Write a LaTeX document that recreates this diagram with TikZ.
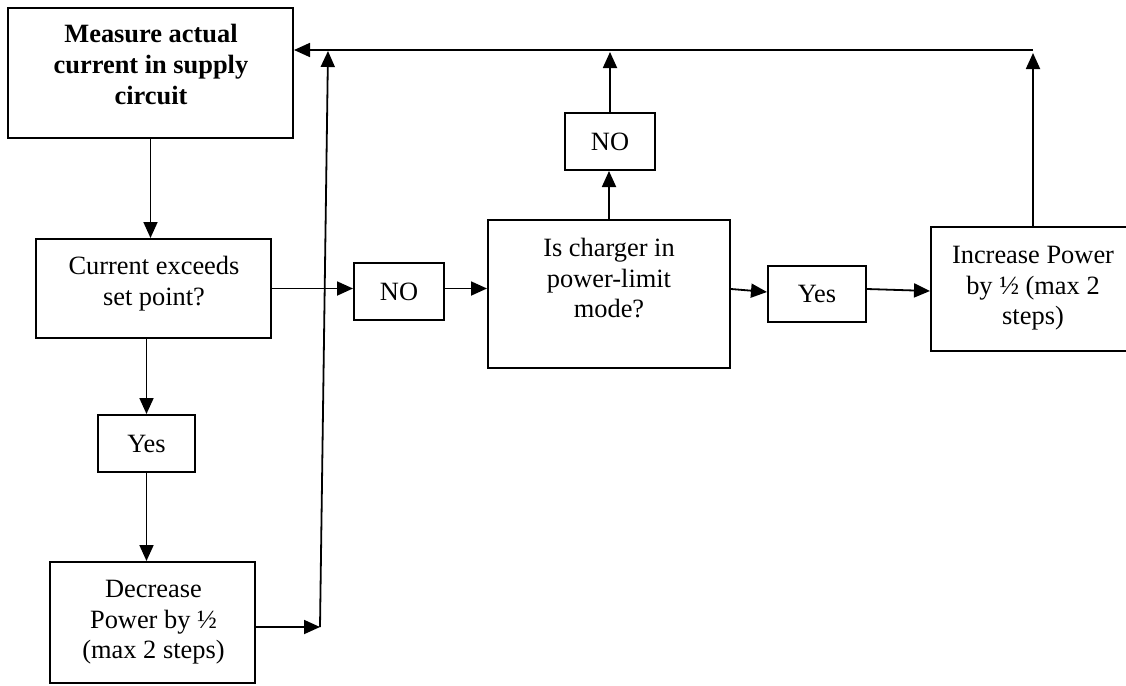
\documentclass[tikz,border=0pt]{standalone}
\usepackage{fontspec}
\setmainfont{Liberation Serif}
\usetikzlibrary{arrows.meta}
\begin{document}
\begin{tikzpicture}[x=1pt,y=-1pt,
  box/.style={draw, line width=2pt, inner sep=0pt, font=\fontsize{26.4pt}{30.8pt}\selectfont},
  txt/.style={font=\fontsize{26.4pt}{30.8pt}\selectfont, align=center, inner sep=0pt, anchor=north},
  arr/.style={line width=1.8pt, -{Triangle[length=16pt,width=14pt]}}]
\useasboundingbox (0,0) rectangle (1126,685);
\clip (0,0) rectangle (1126,685);
\fill[white] (0,0) rectangle (1126,685);
% boxes
\node[box, minimum width=285pt, minimum height=130pt] (m) at (150.5,73) {};
\node[box, minimum width=235pt, minimum height=99pt] (c) at (153.5,288.5) {};
\node[box, minimum width=97pt, minimum height=57pt] (y1) at (146.5,443.5) {Yes};
\node[box, minimum width=205pt, minimum height=121pt] (d) at (152.5,622.5) {};
\node[box, minimum width=90pt, minimum height=57pt] (n1) at (399,291.5) {NO};
\node[box, minimum width=242pt, minimum height=148pt] (ic) at (609,294) {};
\node[box, minimum width=90pt, minimum height=57pt] (n2) at (610,141.5) {NO};
\node[box, minimum width=98pt, minimum height=56pt] (y2) at (817,294) {Yes};
\node[box, minimum width=204pt, minimum height=124pt] (inc) at (1033,289) {};
% texts
\node[txt] (mt) at (151,21) {\strut\bfseries Measure actual\\\bfseries current in supply\\\bfseries circuit};
\node[txt] (ct) at (154,252.6) {\strut Current exceeds\\set point?};
\node[txt] (ict) at (609,234.6) {\strut Is charger in\\power-limit\\mode?};
\node[txt] (dt) at (153.5,575.6) {\strut Decrease\\Power by ½\\(max 2 steps)};
\node[txt] (inct) at (1033,241.6) {\strut Increase Power\\by ½ (max 2\\steps)};
% coordinates
\coordinate (dk) at (320,627);
\coordinate (t1) at (328,51);
\coordinate (tr) at (1033,50);
\coordinate (n2t) at (610,52);
\coordinate (inct) at (1033,53);
% connectors
\draw[arr] (m.south) -- (m.south |- c.north);
\draw[arr] (y1.north |- c.south) -- (y1.north);
\draw[arr] (y1.south) -- (y1.south |- d.north);
\draw[arr] (d.east |- dk) -- (dk);
\draw[arr] (dk) -- (t1);
\draw[arr] (tr) -- (m.east |- tr);
\draw[arr] (c.east) -- (c.east -| n1.west);
\draw[arr] (c.east -| n1.east) -- (c.east -| ic.west);
\draw[arr] (ic.north) -- (ic.north |- n2.south);
\draw[arr] (n2.north) -- (n2t);
\draw[arr] ([yshift=5pt]ic.east) -- ([yshift=2pt]y2.west);
\draw[arr] ([yshift=5pt]y2.east) -- ([yshift=-2pt]inc.west);
\draw[arr] (inc.north) -- (inct);
\end{tikzpicture}
\end{document}
